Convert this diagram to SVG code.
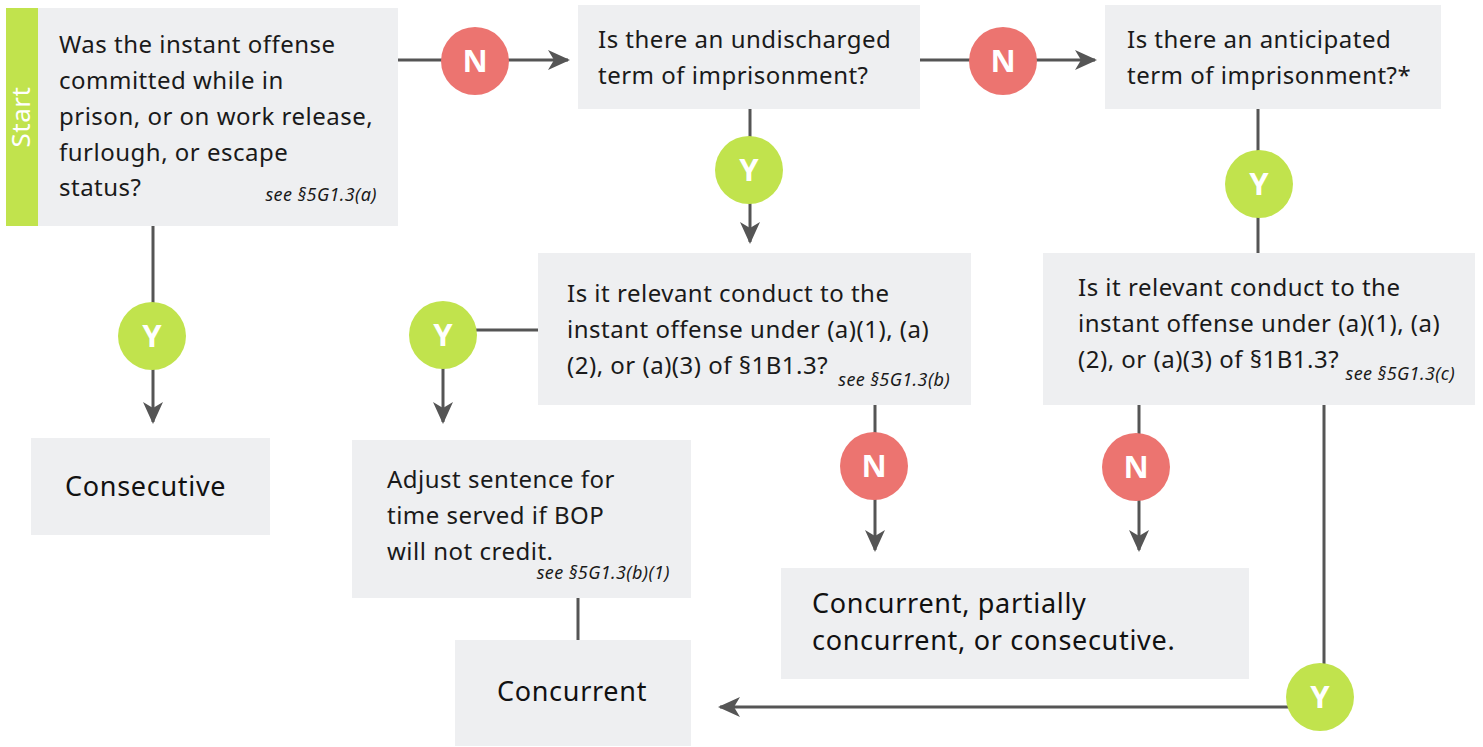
<svg xmlns="http://www.w3.org/2000/svg" width="1483" height="747" viewBox="0 0 1483 747">
<style>
.box{fill:#eeeff1}
.t{font-family:"Noto Sans",sans-serif;font-size:24px;letter-spacing:0.5px;fill:#1a1a1a}
.ref{font-family:"Noto Sans",sans-serif;font-size:18px;letter-spacing:0.4px;font-style:italic;fill:#1a1a1a;text-anchor:end}
.big{font-family:"Noto Sans",sans-serif;font-size:27px;letter-spacing:0.7px;fill:#111}
.ln{stroke:#555;stroke-width:3;fill:none}
.arr{stroke:#555;stroke-width:3;fill:none;marker-end:url(#ah)}
.cy{fill:#c1e34d}
.cn{fill:#ec7470}
.lbl{font-family:"Open Sans","Noto Sans",sans-serif;font-weight:bold;font-size:31px;fill:#fff;text-anchor:middle}
</style>
<defs>
<marker id="ah" viewBox="0 0 22 20" refX="20" refY="10" markerWidth="22" markerHeight="20" markerUnits="userSpaceOnUse" orient="auto">
<path d="M0,0 L22,10 L0,20 L6,10 Z" fill="#555"/>
</marker>
</defs>
<rect width="1483" height="747" fill="#fff"/>
<g id="connectors">
<line class="ln" x1="398" y1="60" x2="445" y2="60"/>
<line class="arr" x1="505" y1="60" x2="568" y2="60"/>
<line class="ln" x1="920" y1="60" x2="972" y2="60"/>
<line class="arr" x1="1034" y1="60" x2="1095" y2="60"/>
<line class="ln" x1="153" y1="226" x2="153" y2="305"/>
<line class="arr" x1="153" y1="365" x2="153" y2="422"/>
<line class="ln" x1="750" y1="109" x2="750" y2="140"/>
<line class="arr" x1="750" y1="200" x2="750" y2="242"/>
<line class="ln" x1="538" y1="330" x2="470" y2="330"/>
<line class="arr" x1="443" y1="365" x2="443" y2="422"/>
<line class="ln" x1="578" y1="598" x2="578" y2="640"/>
<line class="ln" x1="1258" y1="109" x2="1258" y2="253"/>
<line class="ln" x1="875" y1="405" x2="875" y2="440"/>
<line class="arr" x1="875" y1="495" x2="875" y2="550"/>
<line class="ln" x1="1139" y1="405" x2="1139" y2="440"/>
<line class="arr" x1="1139" y1="495" x2="1139" y2="550"/>
<line class="ln" x1="1324" y1="405" x2="1324" y2="670"/>
<polyline class="arr" points="1290,707 720,707"/>
</g>
<g id="start">
<rect x="6" y="8" width="32" height="218" fill="#c1e34d"/>
<text transform="translate(30,117) rotate(-90)" text-anchor="middle" style="font-family:'Noto Sans',sans-serif;font-size:26px;letter-spacing:0.5px;fill:#fff">Start</text>
<rect class="box" x="38" y="8" width="360" height="218"/>
<text class="t" x="59" y="53">Was the instant offense</text>
<text class="t" x="59" y="89">committed while in</text>
<text class="t" x="59" y="125">prison, or on work release,</text>
<text class="t" x="59" y="161">furlough, or escape</text>
<text class="t" x="59" y="196">status?</text>
<text class="ref" x="377" y="201">see §5G1.3(a)</text>
</g>
<g id="undischarged">
<rect class="box" x="578" y="5" width="342" height="104"/>
<text class="t" x="598" y="48">Is there an undischarged</text>
<text class="t" x="598" y="84">term of imprisonment?</text>
</g>
<g id="anticipated">
<rect class="box" x="1105" y="5" width="336" height="104"/>
<text class="t" x="1127" y="48">Is there an anticipated</text>
<text class="t" x="1127" y="84">term of imprisonment?*</text>
</g>
<g id="relevant-b">
<rect class="box" x="538" y="253" width="433" height="152"/>
<text class="t" x="567" y="302">Is it relevant conduct to the</text>
<text class="t" x="567" y="338">instant offense under (a)(1), (a)</text>
<text class="t" x="567" y="374">(2), or (a)(3) of §1B1.3?</text>
<text class="ref" x="950" y="386">see §5G1.3(b)</text>
</g>
<g id="relevant-c">
<rect class="box" x="1043" y="253" width="432" height="152"/>
<text class="t" x="1078" y="296">Is it relevant conduct to the</text>
<text class="t" x="1078" y="332">instant offense under (a)(1), (a)</text>
<text class="t" x="1078" y="368">(2), or (a)(3) of §1B1.3?</text>
<text class="ref" x="1455" y="380">see §5G1.3(c)</text>
</g>
<g id="consecutive">
<rect class="box" x="31" y="438" width="239" height="97"/>
<text class="big" x="65" y="496">Consecutive</text>
</g>
<g id="adjust">
<rect class="box" x="352" y="440" width="339" height="158"/>
<text class="t" x="387" y="488">Adjust sentence for</text>
<text class="t" x="387" y="524">time served if BOP</text>
<text class="t" x="387" y="560">will not credit.</text>
<text class="ref" x="670" y="579">see §5G1.3(b)(1)</text>
</g>
<g id="concurrent">
<rect class="box" x="455" y="640" width="236" height="106"/>
<text class="big" x="572" y="701" text-anchor="middle">Concurrent</text>
</g>
<g id="either">
<rect class="box" x="781" y="568" width="468" height="111"/>
<text class="big" x="812" y="613">Concurrent, partially</text>
<text class="big" x="812" y="650">concurrent, or consecutive.</text>
</g>
<g id="badges">
<circle class="cn" cx="475" cy="61" r="34"/><text class="lbl" x="475" y="72">N</text>
<circle class="cn" cx="1003" cy="61" r="34"/><text class="lbl" x="1003" y="72">N</text>
<circle class="cy" cx="152" cy="336" r="34"/><text class="lbl" x="152" y="347">Y</text>
<circle class="cy" cx="749" cy="170" r="34"/><text class="lbl" x="749" y="181">Y</text>
<circle class="cy" cx="443" cy="335" r="34"/><text class="lbl" x="443" y="346">Y</text>
<circle class="cy" cx="1259" cy="184" r="34"/><text class="lbl" x="1259" y="195">Y</text>
<circle class="cn" cx="874" cy="466" r="34"/><text class="lbl" x="874" y="477">N</text>
<circle class="cn" cx="1136" cy="467" r="34"/><text class="lbl" x="1136" y="478">N</text>
<circle class="cy" cx="1320" cy="697" r="34"/><text class="lbl" x="1320" y="708">Y</text>
</g>
</svg>
